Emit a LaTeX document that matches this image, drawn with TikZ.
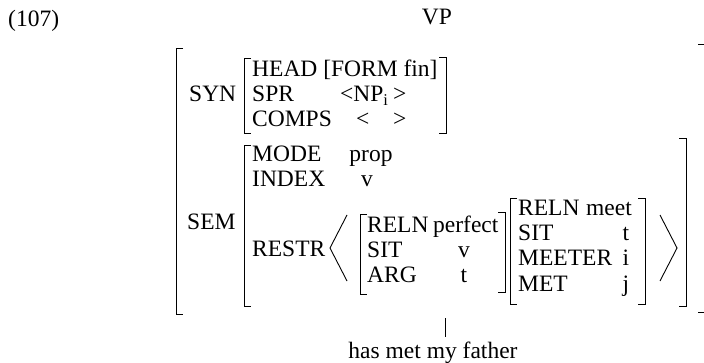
\documentclass[tikz,border=0pt]{standalone}
\usepackage{fontspec}
\setmainfont{Liberation Serif}
\usetikzlibrary{positioning}

\begin{document}
\begin{tikzpicture}[x=1pt,y=-1pt,
  every node/.style={inner sep=0pt,font=\fontsize{23.5}{25}\selectfont},
  feat/.style={anchor=base west},
  val/.style={anchor=base},
  brk/.style={line width=0.9pt}]
  \useasboundingbox (0,0) rectangle (704,363);
  % number and mother node
  \node[feat] (num) at (8,27) {(107)};
  \node[val] (vp) at (437,25) {VP};
  % left brackets, then right brackets
  \foreach \x/\t/\b in {176/48/314,244/58/133,244/145/306,360/214/294,510/198/304}
    \draw[brk] ({\x+7},\t) -- (\x,\t) -- (\x,\b) -- ({\x+7},\b);
  \foreach \x/\t/\b in {705/44/312,446/57/133,686/138/306,505/212/292,645/198/304}
    \draw[brk] ({\x-7},\t) -- (\x,\t) -- (\x,\b) -- ({\x-7},\b);
  % SYN
  \node[feat] (syn) at (189,102) {SYN};
  \node[feat] (head) at (252,77) {HEAD [FORM fin]};
  \node[feat] (spr) at (252,102) {SPR};
  \node[feat] (sprv) at (340,102) {<NP\textsubscript{i}};
  \node[feat] (sprr) at (393,102) {>};
  \node[feat] (comps) at (252,127) {COMPS};
  \node[feat] (compsl) at (356,127) {<};
  \node[feat] (compsr) at (393,127) {>};
  % SEM
  \node[feat] (sem) at (187,230) {SEM};
  \node[feat] (mode) at (252,162) {MODE};
  \node[val] (modev) at (371,162) {prop};
  \node[feat] (index) at (252,187) {INDEX};
  \node[val] (indexv) at (367,187) {v};
  \node[feat] (restr) at (252,257) {RESTR};
  \draw[brk] (347,215) -- (330,248) -- (347,281);
  \draw[brk] (660,215) -- (677,248) -- (660,281);
  % perfect
  \foreach \f/\y in {RELN/233,SIT/258,ARG/283}
    \node[feat] (pf\y) at (367,\y) {\f};
  \node[feat] (pfrel) at (433,233) {perfect};
  \foreach \v/\y in {v/258,t/283}
    \node[val] (pfv\y) at (464,\y) {\v};
  % meet
  \foreach \f/\y in {RELN/216,SIT/241,MEETER/266,MET/291}
    \node[feat] (mt\y) at (518,\y) {\f};
  \node[feat] (mtrel) at (586,216) {meet};
  \foreach \v/\y in {t/241,i/266,j/291}
    \node[val] (mtv\y) at (626,\y) {\v};
  % words
  \node[val] (words) at (433,358) {has met my father};
  \coordinate (stem) at (445,318);
  \draw[brk,shorten >=4pt] (stem) -- (stem |- words.north);
\end{tikzpicture}
\end{document}
